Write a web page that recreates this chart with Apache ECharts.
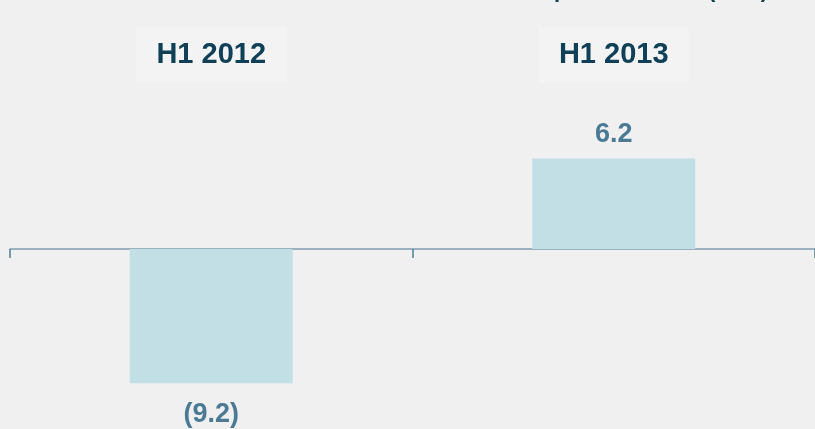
<!DOCTYPE html>
<html>
<head>
<meta charset="utf-8">
<script src="https://cdn.jsdelivr.net/npm/echarts@6/dist/echarts.min.js"></script>
<style>
  html, body { margin: 0; padding: 0; background: #f0f0f0; }
  #chart { width: 815px; height: 429px; }
</style>
</head>
<body>
<div id="chart"></div>
<script>
const periods = ["H1 2012", "H1 2013"];
const netProfit = [-9.2, 6.2];
const chartTitle = "Net profit after tax (€mn)";

const fontFamily = "'Liberation Sans', Arial, sans-serif";

const chart = echarts.init(document.getElementById("chart"));

// negative values are shown in brackets under the bar
const barData = netProfit.map((v) => ({
  value: v,
  label: { position: v < 0 ? "bottom" : "top", distance: v < 0 ? 18 : 10 },
}));

const option = {
  backgroundColor: "#f0f0f0",
  animation: false,
  title: {
    text: chartTitle,
    right: 42,
    top: -25,
    textStyle: {
      color: "#0f4058",
      fontFamily: fontFamily,
      fontWeight: "bold",
      fontSize: 22,
    },
  },
  grid: {
    left: 10,
    width: 812,
    top: 103,
    bottom: 34,
  },
  xAxis: [
    {
      type: "category",
      data: periods,
      position: "bottom",
      axisLine: {
        onZero: true,
        lineStyle: { color: "#7e9db0", width: 1.5 },
      },
      axisTick: {
        show: true,
        length: 9,
        lineStyle: { color: "#4f7f98", width: 1.5 },
      },
      axisLabel: { show: false },
    },
    {
      type: "category",
      data: periods,
      position: "top",
      axisLine: { show: false },
      axisTick: { show: false },
      axisLabel: {
        margin: 21,
        color: "#0f4058",
        fontFamily: fontFamily,
        fontWeight: "bold",
        fontSize: 29,
        lineHeight: 29,
        backgroundColor: "#f3f3f3",
        padding: [13, 20, 13, 20],
      },
    },
  ],
  yAxis: {
    type: "value",
    min: -10,
    max: 10,
    show: false,
    splitLine: { show: false },
  },
  series: [
    {
      type: "bar",
      data: barData,
      barWidth: 163,
      itemStyle: { color: "#c2dfe5" },
      label: {
        show: true,
        color: "#4a7a94",
        fontFamily: fontFamily,
        fontWeight: "bold",
        fontSize: 27,
        formatter: (p) => (p.value < 0 ? "(" + Math.abs(p.value).toFixed(1) + ")" : p.value.toFixed(1)),
      },
    },
  ],
};

chart.setOption(option);
</script>
</body>
</html>
